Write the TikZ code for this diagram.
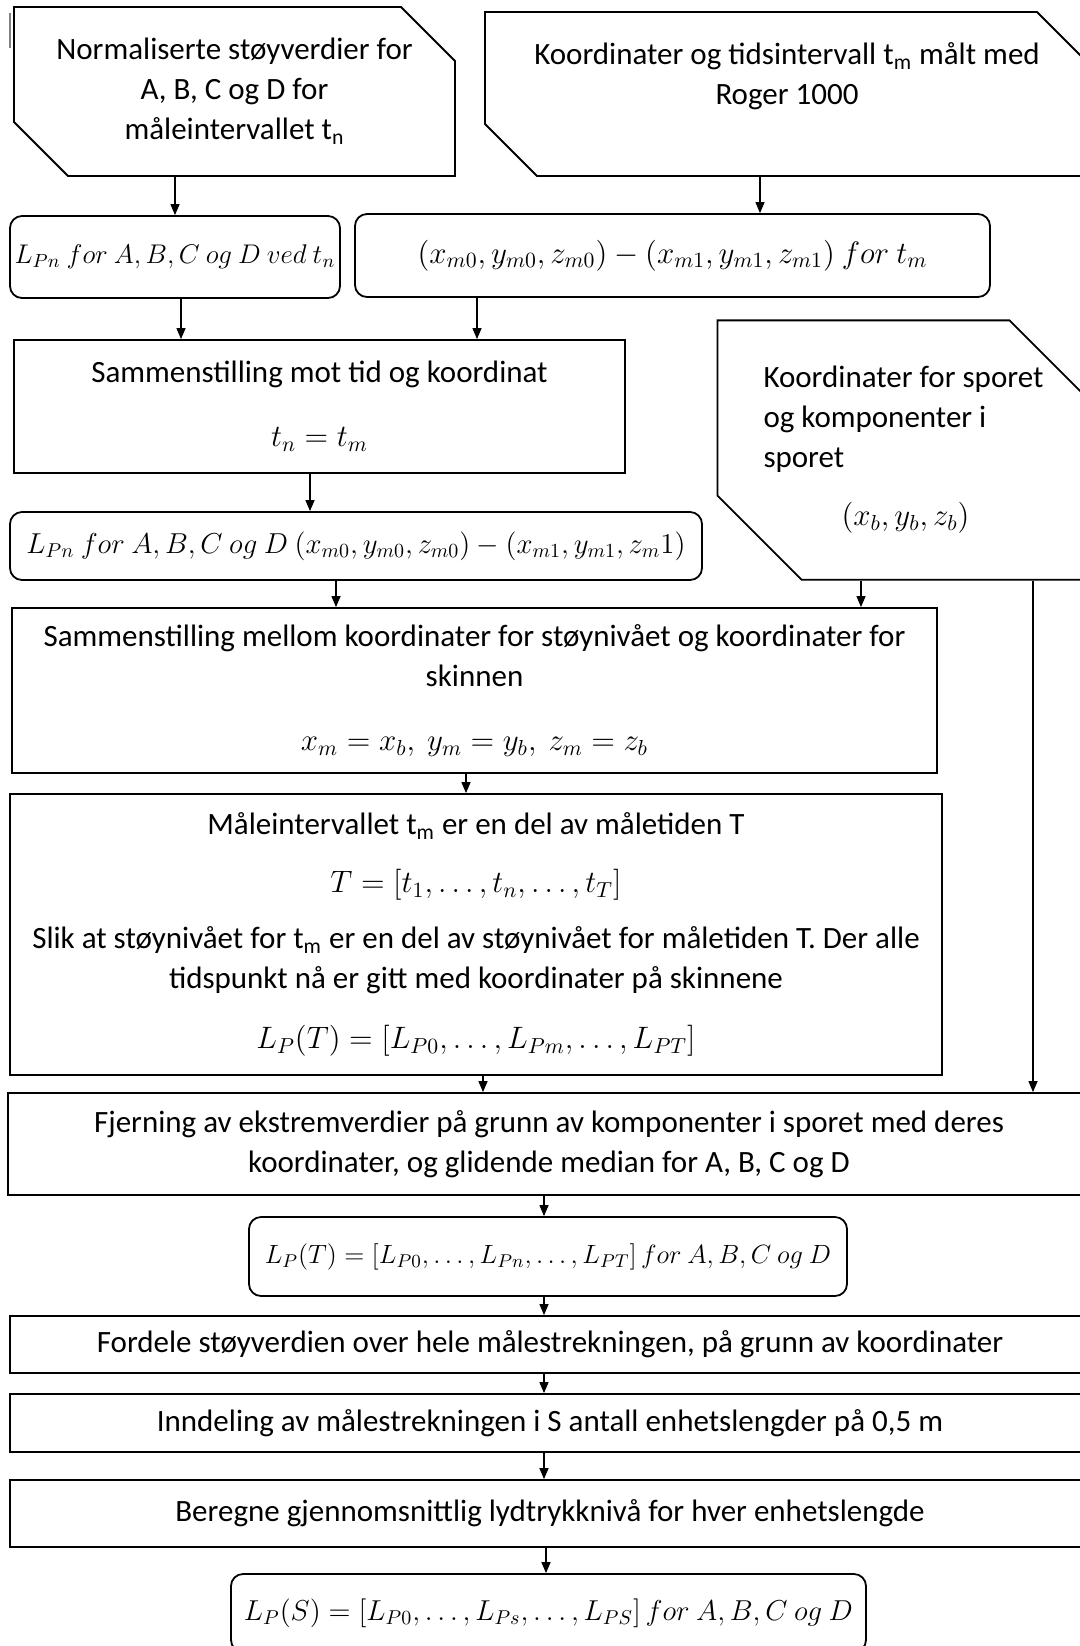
\documentclass[tikz,border=0pt]{standalone}
\usepackage{fix-cm}
\usepackage{fontspec}
\setmainfont{Carlito}
\usetikzlibrary{shapes.misc, arrows.meta}

\tikzset{
  box/.style={draw, line width=0.9pt, align=center, inner sep=2pt},
  roundbox/.style={box, rounded corners=6pt},
  mathbox/.style={roundbox, inner xsep=0pt, font=\fontsize{14.4}{16}\selectfont},
  cardbox/.style={box, chamfered rectangle,
    chamfered rectangle corners={north east,south west}},
  arr/.style={-{Triangle[length=5.5pt,width=4.5pt]}, line width=0.6pt},
}

\begin{document}
\begin{tikzpicture}[x=0.5pt, y=-0.5pt, font=\fontsize{15.5}{20}\selectfont]
  \useasboundingbox (0,0) rectangle (1080,1646);
  \clip (0,0) rectangle (1080,1646);
  \draw [line width=1.2pt, gray] (10,13) -- (10,48);

  % Input data
  \node[cardbox, chamfered rectangle xsep=13.5pt, chamfered rectangle ysep=13.5pt,
    minimum width=220.5pt, minimum height=84.5pt] (norm) at (234.5,91.5)
    {Normaliserte støyverdier for\\ A, B, C og D for\\ måleintervallet t\textsubscript{n}};
  \node[cardbox, chamfered rectangle xsep=13pt, chamfered rectangle ysep=13pt,
    minimum width=302pt, minimum height=82pt] (roger) at (787,94)
    {Koordinater og tidsintervall t\textsubscript{m} målt med\\ Roger 1000\\ ~};
  \node[cardbox, chamfered rectangle xsep=21pt, chamfered rectangle ysep=21pt,
    minimum width=183.5pt, minimum height=127pt, align=left] (spor) at (905.5,450)
    {Koordinater for sporet\\ og komponenter i\\ sporet\\[9pt]
     \makebox[142pt]{$(x_b,y_b,z_b)$}};

  % First results
  \node[mathbox, minimum width=165pt, minimum height=41pt,
    font=\fontsize{13.5}{16}\selectfont] (lpn) at (175,257)
    {$L_{Pn}\ for\ A,B,C\ og\ D\ ved\ t_n$};
  \node[roundbox, minimum width=317.5pt, minimum height=41.5pt] (xyz) at (672.5,255.5)
    {$(x_{m0},y_{m0},z_{m0})-(x_{m1},y_{m1},z_{m1})\ for\ t_m$};
  \node[box, minimum width=305.5pt, minimum height=66.5pt] (samm1) at (319.5,406.5)
    {Sammenstilling mot tid og koordinat\\[12pt] $t_n=t_m$};
  \node[mathbox, minimum width=346pt, minimum height=34pt] (lpnxyz) at (356,546)
    {$L_{Pn}\ for\ A,B,C\ og\ D\ (x_{m0},y_{m0},z_{m0})-(x_{m1},y_{m1},z_m1)$};
  \node[box, minimum width=462.5pt, minimum height=82.5pt] (samm2) at (474.5,690.5)
    {Sammenstilling mellom koordinater for støynivået og koordinater for\\ skinnen\\[12pt]
     $x_m=x_b,\ y_m=y_b,\ z_m=z_b$};
  \node[box, minimum width=466pt, minimum height=140.5pt] (maal) at (476,934.5)
    {Måleintervallet t\textsubscript{m} er en del av måletiden T\\[9pt]
     $T=[t_1,\dots,t_n,\dots,t_T]$\\[8pt]
     Slik at støynivået for t\textsubscript{m} er en del av støynivået for måletiden T. Der alle\\
     tidspunkt nå er gitt med koordinater på skinnene\\[10pt]
     $L_P(T)=[L_{P0},\dots,L_{Pm},\dots,L_{PT}]$};

  % Processing steps
  \node[box, minimum width=541pt, minimum height=51pt] (fjern) at (549,1144)
    {Fjerning av ekstremverdier på grunn av komponenter i sporet med deres\\
     koordinater, og glidende median for A, B, C og D};
  \node[mathbox, minimum width=299pt, minimum height=39.5pt,
    font=\fontsize{13.2}{16}\selectfont] (lpt) at (548,1256.5)
    {$L_P(T)=[L_{P0},\dots,L_{Pn},\dots,L_{PT}]\,for\ A,B,C\ og\ D$};
  \node[box, minimum width=540pt, minimum height=28.5pt] (fordel) at (550,1344.5)
    {Fordele støyverdien over hele målestrekningen, på grunn av koordinater};
  \node[box, minimum width=540pt, minimum height=29pt] (innd) at (550,1423)
    {Inndeling av målestrekningen i S antall enhetslengder på 0,5 m};
  \node[box, minimum width=540pt, minimum height=33.5pt] (bereg) at (550,1513.5)
    {Beregne gjennomsnittlig lydtrykknivå for hver enhetslengde};
  \node[mathbox, minimum width=317.5pt, minimum height=39pt] (lps) at (548.5,1613)
    {$L_P(S)=[L_{P0},\dots,L_{Ps},\dots,L_{PS}]\,for\ A,B,C\ og\ D$};

  % Connections
  \draw[arr] (norm.south -| lpn.north) -- (lpn.north);
  \draw[arr] (roger.south -| 760,0) -- (xyz.north -| 760,0);
  \draw[arr] (lpn.south -| 181,0) -- (samm1.north -| 181,0);
  \draw[arr] (xyz.south -| 477,0) -- (samm1.north -| 477,0);
  \draw[arr] (samm1.south -| 310,0) -- (lpnxyz.north -| 310,0);
  \draw[arr] (lpnxyz.south -| 336,0) -- (samm2.north -| 336,0);
  \draw[arr] (spor.south -| 861,0) -- (samm2.north -| 861,0);
  \draw[arr] (spor.south -| 1033,0) -- (fjern.north -| 1033,0);
  \draw[arr] (samm2.south -| 466,0) -- (maal.north -| 466,0);
  \draw[arr] (maal.south -| 483,0) -- (fjern.north -| 483,0);
  \draw[arr] (fjern.south -| 544,0) -- (lpt.north -| 544,0);
  \draw[arr] (lpt.south -| 544,0) -- (fordel.north -| 544,0);
  \draw[arr] (fordel.south -| 544,0) -- (innd.north -| 544,0);
  \draw[arr] (innd.south -| 544,0) -- (bereg.north -| 544,0);
  \draw[arr] (bereg.south -| 546,0) -- (lps.north -| 546,0);
\end{tikzpicture}
\end{document}
